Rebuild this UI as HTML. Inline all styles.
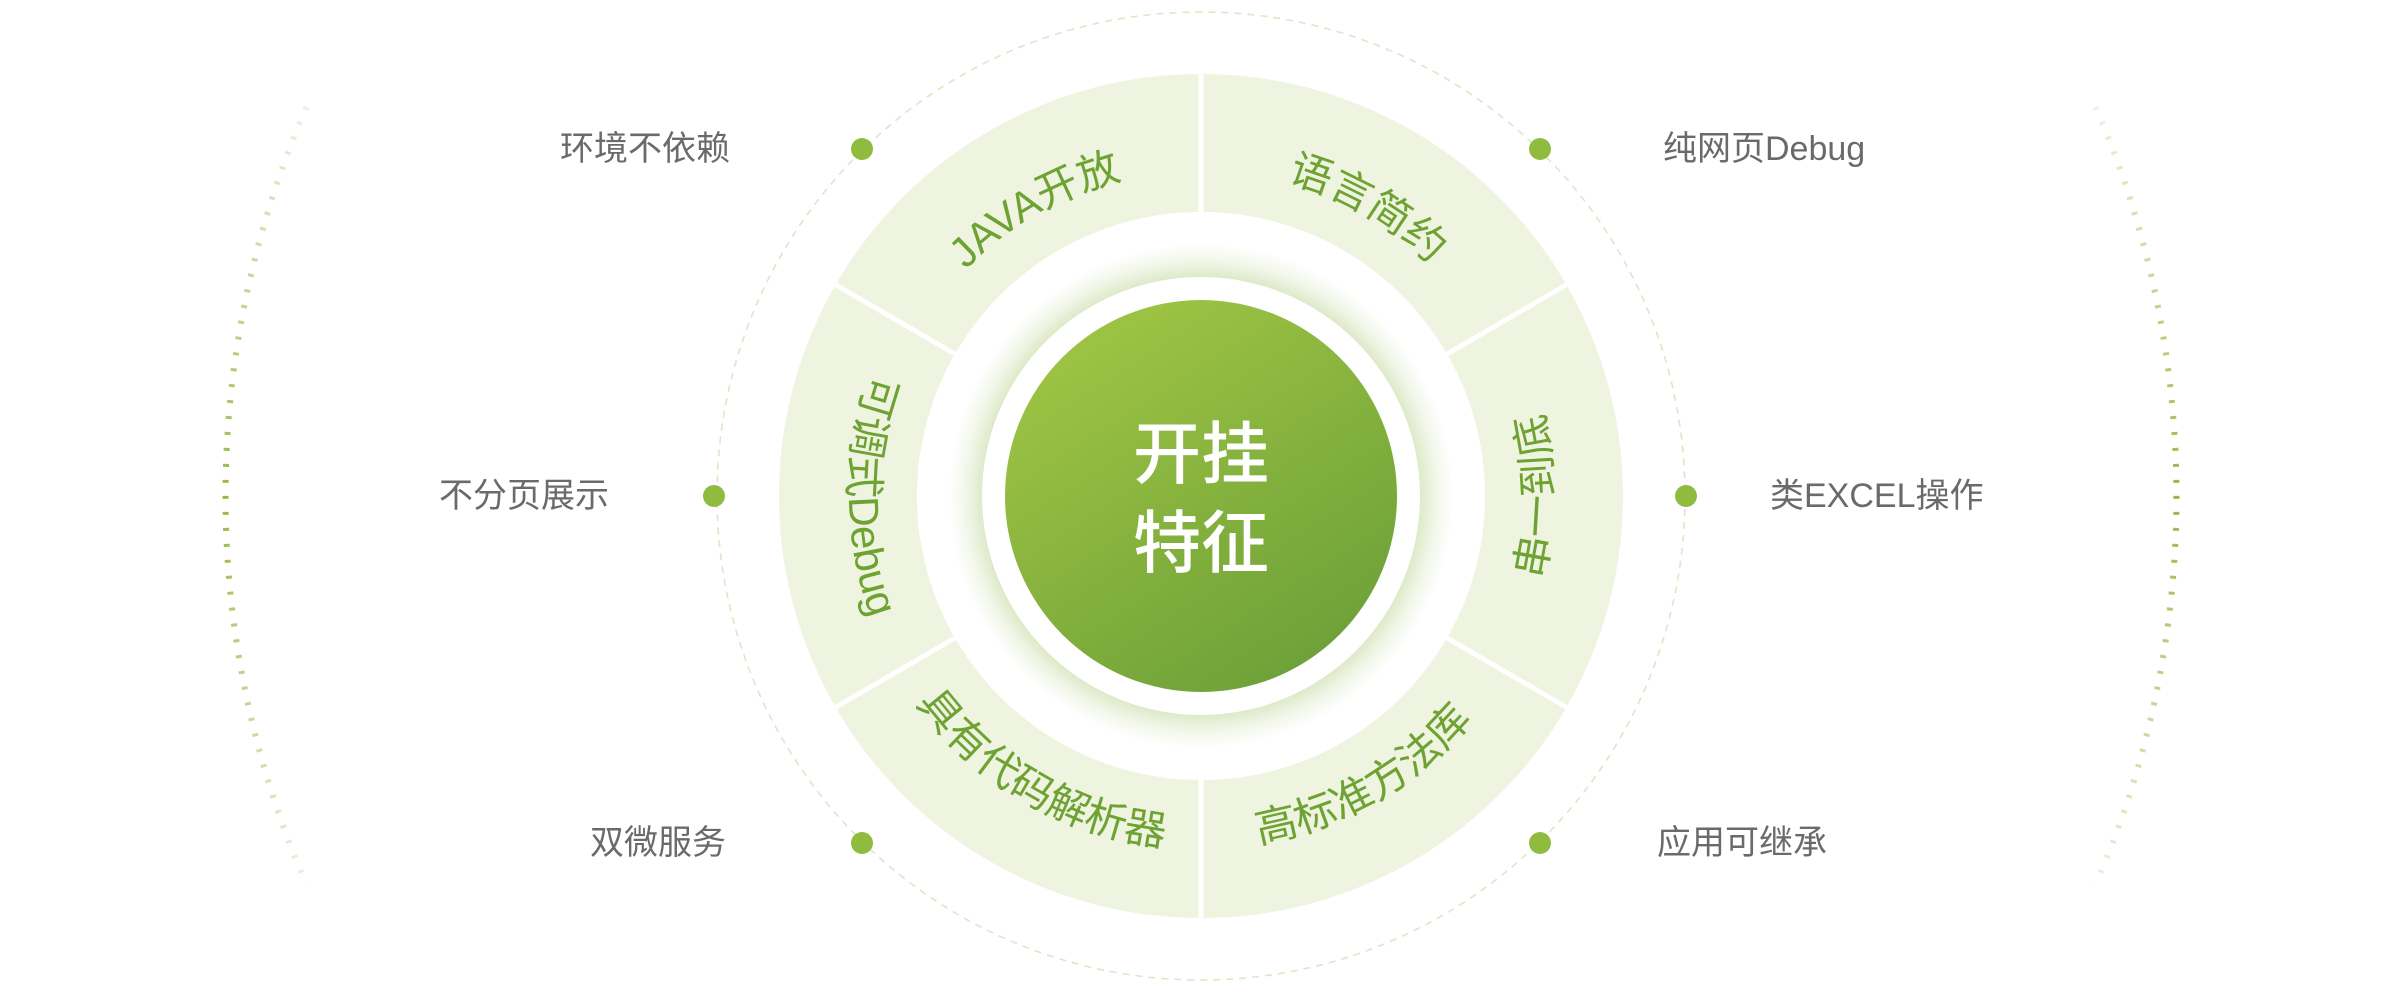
<!DOCTYPE html>
<html><head><meta charset="utf-8"><style>
html,body{margin:0;padding:0;background:#fff;}
svg{display:block;}
.lab{font-family:"Liberation Sans","Noto Sans CJK SC",sans-serif;font-size:34px;fill:#6a6a6a;}
.seg{font-family:"Liberation Sans","Noto Sans CJK SC",sans-serif;font-size:42px;fill:#6ea232;}
.ctr{font-family:"Liberation Sans","Noto Sans CJK SC",sans-serif;font-size:68px;fill:#fff;font-weight:500;}
</style></head><body>
<svg width="2400" height="990" viewBox="0 0 2400 990" xmlns="http://www.w3.org/2000/svg">
<defs>
<linearGradient id="arcg" x1="0" y1="100" x2="0" y2="892" gradientUnits="userSpaceOnUse">
<stop offset="0" stop-color="#eef3e2"/><stop offset="0.5" stop-color="#8fbc3f"/><stop offset="1" stop-color="#eef3e2"/>
</linearGradient>
<linearGradient id="cg" x1="0.25" y1="0.1" x2="0.8" y2="0.95">
<stop offset="0" stop-color="#9cc243"/><stop offset="1" stop-color="#6ca038"/>
</linearGradient>
<radialGradient id="sh" cx="0.5" cy="0.5" r="0.5">
<stop offset="0.86" stop-color="#dbe7c4"/><stop offset="0.93" stop-color="#f1f6e8"/><stop offset="1" stop-color="#ffffff"/>
</radialGradient>
<path id="p1" d="M918.6,333 A326,326 0 0 1 1201,170"/>
<path id="p2" d="M1201,170 A326,326 0 0 1 1483.4,333"/>
<path id="p3" d="M896.2,672 A352,352 0 0 0 1201,848"/>
<path id="p4" d="M1201,848 A352,352 0 0 0 1505.8,672"/>
<path id="p5" d="M896.2,320 A352,352 0 0 0 896.2,672"/>
<path id="p6" d="M1505.8,672 A352,352 0 0 0 1505.8,320"/>
</defs>

<path d="M306.5,107 A975,975 0 0 0 306.5,885" fill="none" stroke="url(#arcg)" stroke-width="6" stroke-dasharray="3 13"/>
<path d="M2095.5,107 A975,975 0 0 1 2095.5,885" fill="none" stroke="url(#arcg)" stroke-width="6" stroke-dasharray="3 13"/>

<circle cx="1201" cy="496" r="484" fill="none" stroke="#dde7c6" stroke-width="1.6" stroke-dasharray="7 6"/>

<circle cx="1201" cy="496" r="353" fill="none" stroke="#eef4df" stroke-width="138"/>
<g stroke="#fff" stroke-width="5">
<line x1="1201" y1="60" x2="1201" y2="212"/>
<line x1="1201" y1="780" x2="1201" y2="932"/>
<line x1="1447" y1="354" x2="1578" y2="278"/>
<line x1="955" y1="354" x2="824" y2="278"/>
<line x1="1447" y1="638" x2="1578" y2="714"/>
<line x1="955" y1="638" x2="824" y2="714"/>
</g>
<circle cx="1201" cy="496" r="284" fill="#fff"/>
<circle cx="1201" cy="496" r="252" fill="url(#sh)"/>
<circle cx="1201" cy="496" r="219" fill="#fff"/>
<circle cx="1201" cy="496" r="196" fill="url(#cg)"/>
<text class="ctr" x="1201" y="478" text-anchor="middle">开挂</text>
<text class="ctr" x="1201" y="567" text-anchor="middle">特征</text>

<text class="seg"><textPath href="#p1" startOffset="50%" text-anchor="middle">JAVA开放</textPath></text>
<text class="seg"><textPath href="#p2" startOffset="50%" text-anchor="middle">语言简约</textPath></text>
<text class="seg"><textPath href="#p3" startOffset="50%" text-anchor="middle">具有代码解析器</textPath></text>
<text class="seg"><textPath href="#p4" startOffset="50%" text-anchor="middle">高标准方法库</textPath></text>
<text class="seg"><textPath href="#p5" startOffset="50%" text-anchor="middle">可调式Debug</textPath></text>
<text class="seg"><textPath href="#p6" startOffset="50%" text-anchor="middle">串一到底</textPath></text>

<g fill="#8fbc3f">
<circle cx="862" cy="149" r="11"/>
<circle cx="1540" cy="149" r="11"/>
<circle cx="714" cy="496" r="11"/>
<circle cx="1686" cy="496" r="11"/>
<circle cx="862" cy="843" r="11"/>
<circle cx="1540" cy="843" r="11"/>
</g>

<text class="lab" x="730" y="160" text-anchor="end">环境不依赖</text>
<text class="lab" x="609" y="507" text-anchor="end">不分页展示</text>
<text class="lab" x="726" y="854" text-anchor="end">双微服务</text>
<text class="lab" x="1663" y="160">纯网页Debug</text>
<text class="lab" x="1770" y="507">类EXCEL操作</text>
<text class="lab" x="1657" y="854">应用可继承</text>
</svg>
</body></html>
